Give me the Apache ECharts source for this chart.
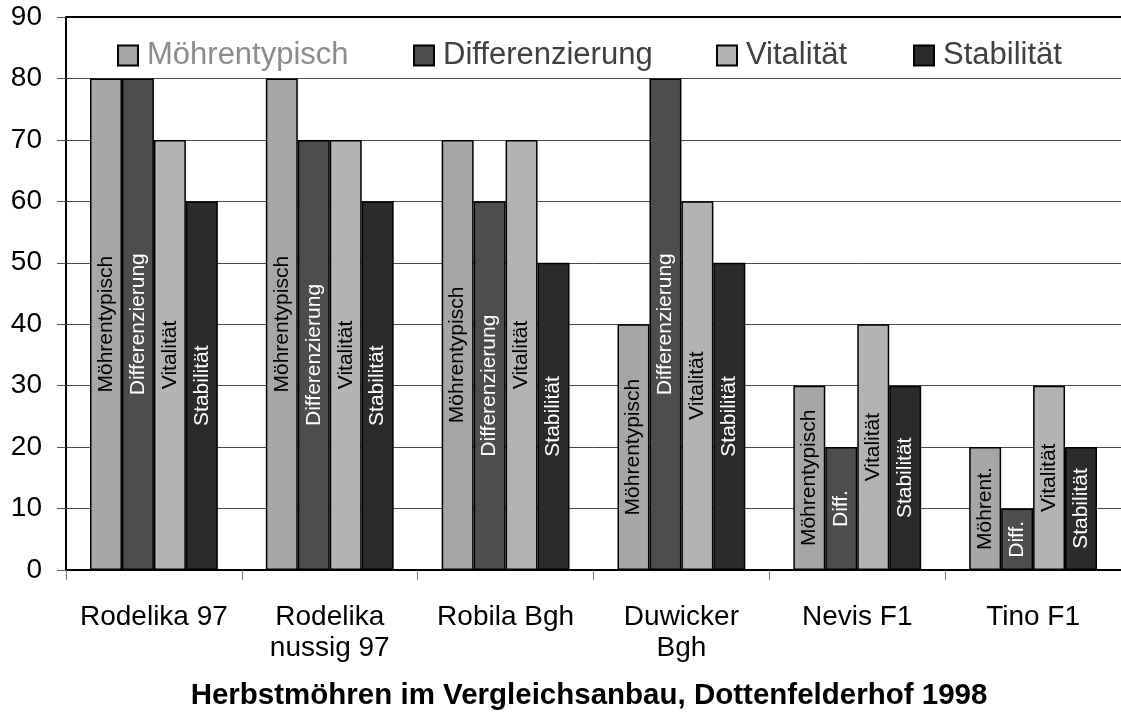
<!DOCTYPE html>
<html>
<head>
<meta charset="utf-8">
<script src="https://cdn.jsdelivr.net/npm/echarts@6/dist/echarts.min.js"></script>
<style>html,body{margin:0;padding:0;background:#fff}#c{width:1121px;height:715px}</style>
</head>
<body>
<div id="c"></div>
<script>
const categories = ['Rodelika 97', 'Rodelika\nnussig 97', 'Robila Bgh', 'Duwicker\nBgh', 'Nevis F1', 'Tino F1'];
const seriesNames = ['Möhrentypisch', 'Differenzierung', 'Vitalität', 'Stabilität'];
const moehrentypisch = [80, 80, 70, 40, 30, 20];
const differenzierung = [80, 70, 60, 80, 20, 10];
const vitalitaet = [70, 70, 70, 60, 40, 30];
const stabilitaet = [60, 60, 50, 50, 30, 20];
const moehrentypischLabels = ['Möhrentypisch', 'Möhrentypisch', 'Möhrentypisch', 'Möhrentypisch', 'Möhrentypisch', 'Möhrent.'];
const differenzierungLabels = ['Differenzierung', 'Differenzierung', 'Differenzierung', 'Differenzierung', 'Diff.', 'Diff.'];
const vitalitaetLabels = ['Vitalität', 'Vitalität', 'Vitalität', 'Vitalität', 'Vitalität', 'Vitalität'];
const stabilitaetLabels = ['Stabilität', 'Stabilität', 'Stabilität', 'Stabilität', 'Stabilität', 'Stabilität'];
const yTicks = [0, 10, 20, 30, 40, 50, 60, 70, 80, 90];
const titleText = 'Herbstmöhren im Vergleichsanbau, Dottenfelderhof 1998';

const FONT = '"Liberation Sans", Arial, sans-serif';
const colors = ['#a6a6a6', '#4d4d4d', '#b3b3b3', '#2b2b2b'];
const labelColors = ['#000', '#fff', '#000', '#fff'];
const legendTextColors = ['#8c8c8c', '#404040', '#404040', '#404040'];
const legendLeft = [117, 413, 716, 913];
const values = [moehrentypisch, differenzierung, vitalitaet, stabilitaet];
const labels = [moehrentypischLabels, differenzierungLabels, vitalitaetLabels, stabilitaetLabels];

const chart = echarts.init(document.getElementById('c'), null, {renderer: 'canvas'});
const series = seriesNames.map((name, i) => ({
  name: name,
  type: 'bar',
  xAxisIndex: 0,
  barGap: '0%',
  barCategoryGap: '27.3%',
  itemStyle: {color: colors[i], borderColor: '#000', borderWidth: 1.5},
  label: {
    show: true,
    position: 'inside',
    rotate: 90,
    align: 'center',
    verticalAlign: 'middle',
    fontFamily: FONT,
    fontSize: 21,
    color: labelColors[i],
    formatter: (p) => labels[i][p.dataIndex]
  },
  emphasis: {disabled: true},
  data: values[i]
}));

chart.setOption({
  animation: false,
  textStyle: {fontFamily: FONT},
  title: {
    text: titleText,
    left: 584,
    textAlign: 'center',
    top: 676,
    textStyle: {fontFamily: FONT, fontSize: 29.5, fontWeight: 'bold', color: '#000'}
  },
  legend: seriesNames.map((name, i) => ({
    data: [{name: name, textStyle: {color: legendTextColors[i]}}],
    left: legendLeft[i],
    top: 40,
    padding: 0,
    icon: 'rect',
    itemWidth: 20,
    itemHeight: 20,
    selectedMode: false,
    textStyle: {fontFamily: FONT, fontSize: 31, padding: [0, 0, 0, 4]}
  })),
  grid: {left: 66, right: 0, top: 17, bottom: 145, containLabel: false},
  xAxis: [{
    type: 'category',
    data: categories,
    axisLine: {lineStyle: {color: '#000', width: 2}},
    axisTick: {show: true, length: 10, lineStyle: {color: '#777', width: 1}},
    axisLabel: {fontFamily: FONT, fontSize: 28, color: '#000', margin: 32, lineHeight: 31, interval: 0}
  }, {
    type: 'category',
    data: categories,
    position: 'top',
    axisLine: {show: true, lineStyle: {color: '#000', width: 2}},
    axisTick: {show: false},
    axisLabel: {show: false}
  }],
  yAxis: {
    type: 'value',
    min: yTicks[0],
    max: yTicks[yTicks.length - 1],
    interval: 10,
    axisLine: {show: true, lineStyle: {color: '#000', width: 2}},
    axisTick: {show: true, length: 9, lineStyle: {color: '#555'}},
    axisLabel: {fontFamily: FONT, fontSize: 28, color: '#000', margin: 24},
    splitLine: {lineStyle: {color: '#4a4a4a', width: 1}}
  },
  series: series
});
</script>
</body>
</html>
